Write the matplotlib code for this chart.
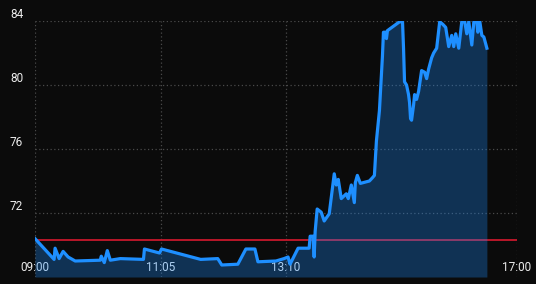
import matplotlib
matplotlib.use("Agg")
import matplotlib.pyplot as plt
import matplotlib.transforms as mtransforms
import pandas as pd

plt.rcParams['font.family'] = ['Roboto', 'DejaVu Sans']

# ---- data ----
minutes = [0, 19, 20, 24, 28, 33, 40, 65, 66, 69, 72, 75, 85, 108, 109, 124, 126,
           165, 182, 184, 186, 202, 210, 219, 222, 240, 248, 252, 254, 262, 273,
           274, 277, 278, 279, 281, 285, 288, 293, 298, 300, 302, 305, 310, 312,
           315, 318, 319, 321, 324, 333, 336, 338, 340, 343, 346, 347, 349, 350,
           351, 363, 366, 367, 368, 370, 372, 373, 374, 375, 377, 378, 380, 382,
           385, 388, 390, 392, 395, 397, 400, 403, 406, 409, 412, 415, 417, 419,
           422, 425, 428, 430, 432, 435, 437, 440, 441, 443, 445, 447, 450]
values = [70.4, 69.1, 69.8, 69.15, 69.6, 69.25, 69.0, 69.05, 69.3, 68.9, 69.65,
          69.05, 69.15, 69.1, 69.75, 69.5, 69.75, 69.1, 69.15, 68.95, 68.75, 68.8,
          69.75, 69.75, 68.95, 69.0, 69.15, 69.25, 68.8, 69.8, 69.8, 70.55, 70.55,
          69.25, 70.85, 72.25, 72.05, 71.5, 71.95, 74.45, 73.75, 74.1, 72.9, 73.2,
          72.9, 73.75, 72.65, 73.9, 74.35, 73.85, 74.0, 74.2, 74.35, 76.5, 78.4,
          81.8, 83.3, 83.3, 82.9, 83.4, 83.95, 83.95, 82.3, 80.2, 80.0, 79.4, 78.9,
          77.9, 77.8, 78.75, 79.4, 79.1, 79.6, 80.9, 80.8, 80.4, 81.0, 81.7, 82.0,
          82.3, 83.95, 83.8, 83.6, 82.4, 83.1, 82.4, 83.2, 82.3, 83.95, 83.95, 83.2,
          83.95, 82.5, 83.95, 83.95, 83.3, 83.95, 83.1, 83.0, 82.3]
threshold = 70.3
start_time = "2024-01-01 09:00"
end_time = "2024-01-01 17:00"
x_tick_labels = ["09:00", "11:05", "13:10", "17:00"]
y_ticks = [72, 76, 80, 84]
y_min, y_max = 68, 84

# ---- build ----
t0 = pd.Timestamp(start_time)
times = [t0 + pd.Timedelta(minutes=m) for m in minutes]
x_ticks = [pd.Timestamp("2024-01-01 " + s) for s in x_tick_labels]

bg = "#0b0b0b"
line_c = "#1e8fff"
fig = plt.figure(figsize=(5.36, 2.84), dpi=100, facecolor=bg)
ax = fig.add_axes([35/536, 1-277/284, (517-35)/536, (277-21)/284])
ax.set_facecolor(bg)

ax.plot([t0, pd.Timestamp(end_time)], [threshold, threshold], color="#c8182c",
        lw=1.3, zorder=2)
ax.fill_between(times, values, y_min, color=line_c, alpha=0.3, lw=0, zorder=3)
ax.plot(times, values, color=line_c, lw=2.3, zorder=4, solid_joinstyle='round')

ax.set_xlim(t0, pd.Timestamp(end_time))
ax.set_ylim(y_min, y_max)

for s in ax.spines.values():
    s.set_visible(False)

ax.set_yticks(y_ticks)
ax.set_yticklabels([str(v) for v in y_ticks])
ax.set_xticks(x_ticks)
ax.set_xticklabels(x_tick_labels)
ax.tick_params(length=0, colors="#ececec", labelsize=8.5)
ax.tick_params(axis='y', pad=8.5)
ax.tick_params(axis='x', pad=0)
ax.grid(True, color="#4a4a4a", lw=0.9, ls=(0, (1, 2)), zorder=1)

off_y = mtransforms.ScaledTranslation(0, 8/100, fig.dpi_scale_trans)
for lab in ax.get_yticklabels():
    lab.set_transform(lab.get_transform() + off_y)
off_x = mtransforms.ScaledTranslation(0, 16/100, fig.dpi_scale_trans)
for lab in ax.get_xticklabels():
    lab.set_transform(lab.get_transform() + off_x)
    lab.set_zorder(6)

fig.savefig("out.png", dpi=100, facecolor=bg)
